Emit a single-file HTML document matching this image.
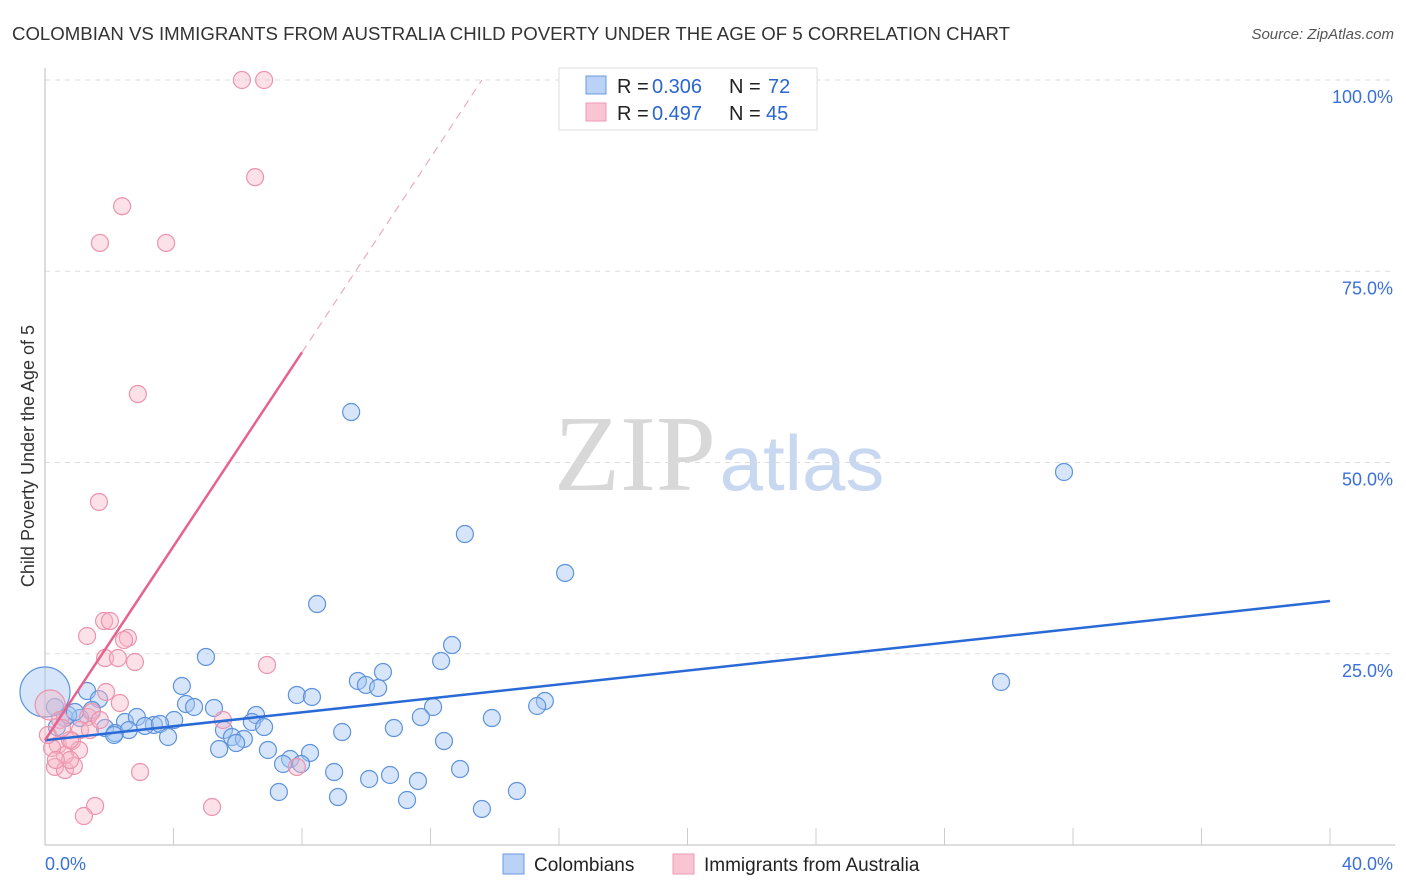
<!DOCTYPE html>
<html><head><meta charset="utf-8"><style>
body{margin:0;background:#fff;font-family:"Liberation Sans",sans-serif;}
#wrap{position:relative;width:1406px;height:892px;overflow:hidden;}
</style></head><body>
<div id="wrap">
<svg id="chart" width="1406" height="892" xmlns="http://www.w3.org/2000/svg">
<text x="12" y="40" font-size="18" fill="#333" textLength="998" lengthAdjust="spacingAndGlyphs">COLOMBIAN VS IMMIGRANTS FROM AUSTRALIA CHILD POVERTY UNDER THE AGE OF 5 CORRELATION CHART</text>
<text x="1394" y="39" font-size="15" fill="#555" font-style="italic" text-anchor="end">Source: ZipAtlas.com</text>
<text transform="translate(34,456) rotate(-90)" font-size="18" fill="#333" text-anchor="middle">Child Poverty Under the Age of 5</text>
<text x="635" y="490" font-size="108" fill="#d8d8d8" font-family="Liberation Serif,serif" text-anchor="middle">ZIP</text>
<text x="802" y="490" font-size="78" fill="#c8d8f0" text-anchor="middle">atlas</text>
<g id="grid"></g><g id="pts"></g><g id="lines"></g>
<g>
<rect x="559" y="68" width="258" height="62" fill="#fff" stroke="#ddd"/>
<rect x="586" y="76" width="20" height="18" fill="#b9d2f5" stroke="#6c9be0"/>
<rect x="586" y="103" width="20" height="18" fill="#fac5d3" stroke="#ec9ab2"/>
<text y="93" font-size="20" fill="#222"><tspan x="617">R =</tspan><tspan x="652" fill="#2a66d0">0.306</tspan><tspan x="729">N =</tspan><tspan x="768" fill="#2a66d0">72</tspan></text>
<text y="120" font-size="20" fill="#222"><tspan x="617">R =</tspan><tspan x="652" fill="#2a66d0">0.497</tspan><tspan x="729">N =</tspan><tspan x="766" fill="#2a66d0">45</tspan></text>
</g>
<rect x="503" y="854" width="21" height="20" fill="#b9d2f5" stroke="#6c9be0"/>
<text x="534" y="871" font-size="19" fill="#222">Colombians</text>
<rect x="673" y="854" width="21" height="20" fill="#fac5d3" stroke="#ec9ab2"/>
<text x="704" y="871" font-size="19" fill="#222">Immigrants from Australia</text>
</svg>
</div>
<script>
const yTicks=[25,50,75,100];
const yTickLabels=["25.0%","50.0%","75.0%","100.0%"];
const xTickLabels=["0.0%","40.0%"];
const blueX=[9.53,31.72,13.07,16.19,8.47,12.67,12.33,5.01,10.52,29.76,9.74,9.99,10.37,4.26,1.31,7.84,8.31,15.56,15.32,1.68,4.39,4.64,5.26,12.08,1.46,6.57,11.7,13.91,0.62,1.09,2.49,2.86,4.02,3.39,3.11,3.58,6.44,6.82,5.57,1.87,2.18,2.61,9.25,10.86,2.15,3.83,5.82,6.19,5.95,12.42,6.94,5.42,8.25,7.63,7.41,7.97,12.92,9.0,10.74,10.09,11.61,7.28,14.69,9.12,11.27,13.6,0.31,0.72,0.37,0.93,0];
const blueY=[56.6,48.76,40.65,35.56,31.5,26.14,24.05,24.58,22.61,21.31,21.44,20.92,20.52,20.78,20.13,19.61,19.35,18.82,18.17,19.08,18.43,18.04,17.91,18.04,17.65,16.99,16.73,16.6,16.6,16.6,16.08,16.73,16.34,15.69,15.56,15.82,16.08,15.42,15.03,15.29,14.64,15.03,14.77,15.29,14.38,14.12,14.12,13.86,13.33,13.59,12.42,12.55,12.03,11.24,10.59,10.59,9.93,9.54,9.15,8.63,8.37,6.93,7.06,6.27,5.88,4.71,18.04,16.99,15.42,17.39,20.0];
const blueBig=[0,0,0,0,0,0,0,0,0,0,0,0,0,0,0,0,0,0,0,0,0,0,0,0,0,0,0,0,0,0,0,0,0,0,0,0,0,0,0,0,0,0,0,0,0,0,0,0,0,0,0,0,0,0,0,0,0,0,0,0,0,0,0,0,0,0,0,0,0,0,1];
const pinkX=[6.13,6.82,6.54,2.4,1.71,3.77,2.89,1.68,1.31,1.84,2.02,2.58,2.46,1.87,2.27,2.8,6.91,1.9,2.33,5.54,1.34,1.09,0.4,0.84,1.06,0.31,0.62,0.9,2.96,7.84,1.56,1.21,5.2,0.16,0.47,0.62,1.4,1.46,0.22,0.78,0.34,0.09,1.71,0.78,0.53];
const pinkY=[100,100,87.3,83.5,78.7,78.7,58.95,44.84,27.32,29.28,29.28,27.06,26.8,24.44,24.44,23.92,23.53,20.0,18.56,16.34,16.73,15.03,13.07,13.59,12.42,10.2,9.8,10.33,9.54,10.2,5.1,3.79,4.97,18.3,16.34,11.76,15.03,17.39,12.68,11.11,11.11,14.38,16.34,13.73,15.29];
const blueLine=[[0,13.7],[40,31.9]];
const pinkLine=[[0,13.7],[8,64.4]];
const pinkDash=[[8,64.4],[13.6,100]];
const X0=45,X1=1330,Y0=845,YS=7.65;
const sx=v=>X0+v*(X1-X0)/40, sy=v=>Y0-v*YS;
const NS="http://www.w3.org/2000/svg";
function mk(tag,attrs,parent){const e=document.createElementNS(NS,tag);for(const k in attrs)e.setAttribute(k,attrs[k]);parent.appendChild(e);return e;}
const grid=document.getElementById('grid'),pts=document.getElementById('pts'),lines=document.getElementById('lines');
yTicks.forEach((t,i)=>{
 const l=mk('line',{x1:45,x2:1395,y1:sy(t),y2:sy(t),stroke:'#ddd','stroke-dasharray':'5,5'},grid);
 
 
 const tx=mk('text',{x:1393,y:sy(t)+23,'font-size':18,fill:'#3a70d8','text-anchor':'end'},grid);
 tx.textContent=yTickLabels[i];
 
 
});
const ax=mk('line',{x1:45,x2:45,y1:68,y2:845,stroke:'#bbb'},grid);


const bx=mk('line',{x1:45,x2:1395,y1:845,y2:845,stroke:'#bbb'},grid);


for(let i=1;i<=10;i++){
 const t=mk('line',{x1:sx(i*4),x2:sx(i*4),y1:828,y2:845,stroke:'#ccc'},grid);
 
 
}
[[0,'start',45],[40,'end',1393]].forEach((d,i)=>{
 const t=mk('text',{x:d[2],y:870,'font-size':18,fill:'#3a70d8','text-anchor':d[1]},grid);
 t.textContent=xTickLabels[i];
 
 
});
blueX.forEach((x,i)=>{
 const c=mk('circle',{cx:sx(x),cy:sy(blueY[i]),r:blueBig[i]?25:8.5,fill:'rgba(165,198,242,0.45)',stroke:'#5f93dc','stroke-width':1.2},pts);
 
 
});
pinkX.forEach((x,i)=>{
 const c=mk('circle',{cx:sx(x),cy:sy(pinkY[i]),r:i==33?15:8.5,fill:'rgba(248,180,198,0.4)',stroke:'#ec93ad','stroke-width':1.2},pts);
 
 
});
const bl=mk('line',{x1:sx(blueLine[0][0]),y1:sy(blueLine[0][1]),x2:sx(blueLine[1][0]),y2:sy(blueLine[1][1]),stroke:'#2a6ad6','stroke-width':2.5},lines);


const pl=mk('line',{x1:sx(pinkLine[0][0]),y1:sy(pinkLine[0][1]),x2:sx(pinkLine[1][0]),y2:sy(pinkLine[1][1]),stroke:'#e8628e','stroke-width':2.5},lines);


const pd=mk('line',{x1:sx(pinkDash[0][0]),y1:sy(pinkDash[0][1]),x2:sx(pinkDash[1][0]),y2:sy(pinkDash[1][1]),stroke:'#eeaabf','stroke-width':1.2,'stroke-dasharray':'8,6'},lines);


</script>
</body></html>
